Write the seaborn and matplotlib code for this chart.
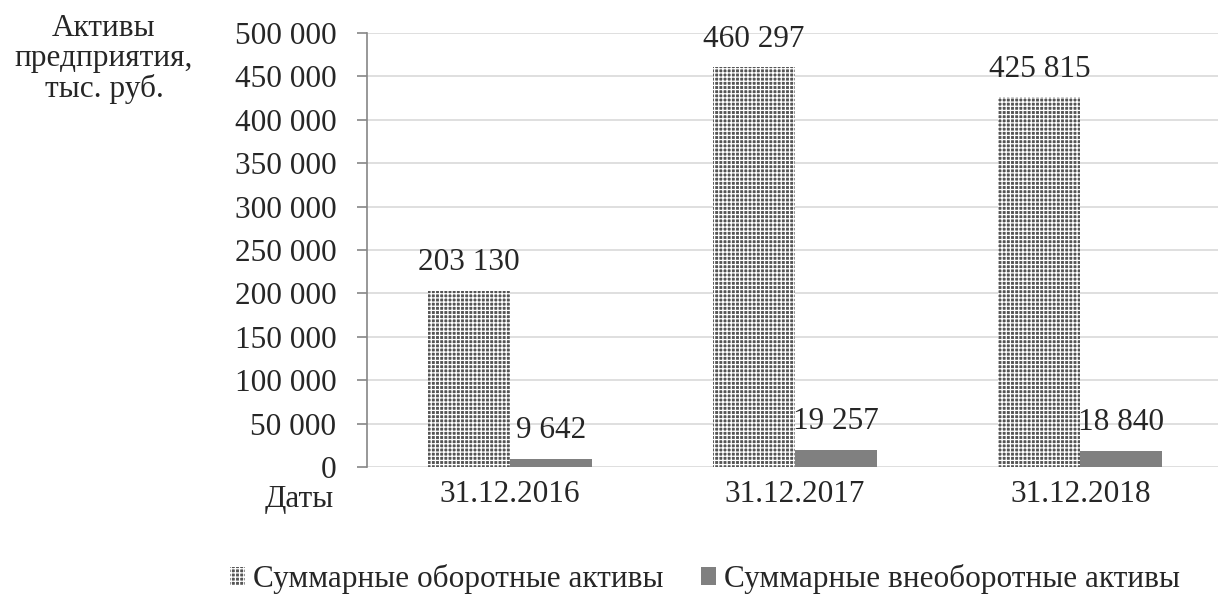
import pandas as pd
import matplotlib
matplotlib.use('Agg')
import matplotlib.pyplot as plt
import matplotlib.ticker as mticker
from matplotlib.patches import Patch
import seaborn as sns

# данные с графика
dates = ['31.12.2016', '31.12.2017', '31.12.2018']
current_assets = [203130, 460297, 425815]
noncurrent_assets = [9642, 19257, 18840]
series_names = ['Суммарные оборотные активы', 'Суммарные внеоборотные активы']

df = pd.DataFrame({
    'Дата': dates * 2,
    'Активы': current_assets + noncurrent_assets,
    'Тип': [series_names[0]] * 3 + [series_names[1]] * 3,
})

sns.set_style('white')
plt.rcParams['font.family'] = ['Liberation Serif', 'DejaVu Serif']
plt.rcParams['hatch.linewidth'] = 0.9

FS = 22.5
W, H = 1218, 598
fig = plt.figure(figsize=(W / 100, H / 100), dpi=100)
ax = fig.add_axes([367 / W, (H - 467) / H, 856 / W, 434 / H])

sns.barplot(data=df, x='Дата', y='Активы', hue='Тип', order=dates,
            hue_order=series_names, palette=['#555555', '#808080'],
            width=0.575, gap=0, saturation=1, legend=False, ax=ax)

# штриховка оборотных активов
for bar in ax.containers[0]:
    bar.set_facecolor('#555555')
    bar.set_edgecolor('white')
    bar.set_hatch('++++')
    bar.set_linewidth(0)
for bar in ax.containers[1]:
    bar.set_edgecolor('none')

fmt = lambda v: f'{v:,.0f}'.replace(',', ' ')
for cont in ax.containers:
    ax.bar_label(cont, labels=[fmt(b.get_height()) for b in cont],
                 padding=10, fontsize=FS)

ax.set_xlim(-0.5, 2.5)
ax.set_ylim(0, 500000)
ax.yaxis.set_major_locator(mticker.MultipleLocator(50000))
ax.yaxis.set_major_formatter(mticker.FuncFormatter(lambda v, p: fmt(v)))
ax.grid(True, axis='y', color='#d9d9d9', linewidth=1.2)
ax.set_axisbelow(True)
ax.set_xlabel('')
ax.set_ylabel('')

for s in ['top', 'right', 'bottom']:
    ax.spines[s].set_visible(False)
ax.spines['left'].set_color('#868686')
ax.spines['left'].set_linewidth(1.2)
ax.tick_params(axis='y', direction='out', length=7, width=1.2,
               color='#868686', pad=15, labelsize=FS, left=True)
ax.tick_params(axis='x', length=0, pad=9, labelsize=FS)

fig.text(104 / W, 1 - 14 / H, 'Активы\nпредприятия,\nтыс. руб.',
         ha='center', va='top', fontsize=FS, linespacing=1.05)
fig.text(334 / W, 1 - 499 / H, 'Даты', ha='right', va='center', fontsize=FS)

handles = [Patch(facecolor='#555555', edgecolor='white', hatch='++++', linewidth=0),
           Patch(facecolor='#808080', edgecolor='none')]
fig.legend(handles, series_names, loc='center', bbox_to_anchor=(705 / W, 19 / H),
           ncol=2, frameon=False, fontsize=FS, handlelength=0.48, handleheight=0.48,
           handletextpad=0.26, columnspacing=1.2, borderpad=0, borderaxespad=0)

fig.savefig('out.png', dpi=100)
